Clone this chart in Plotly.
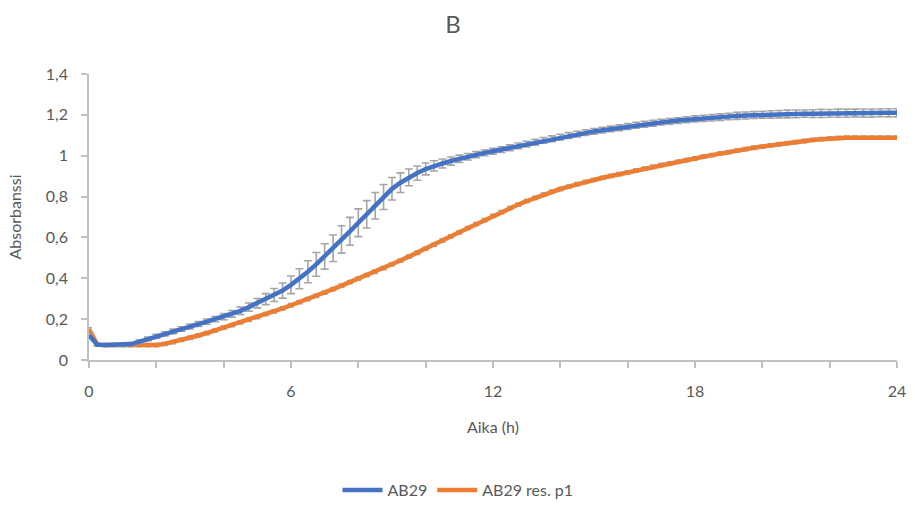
import plotly.graph_objects as go

# Time (h), sampled every 0.25 h
time_h = [i * 0.25 for i in range(97)]

ab29 = [0.120, 0.075, 0.073, 0.073, 0.074, 0.078, 0.090, 0.103, 0.116, 0.128,
        0.140, 0.152, 0.164, 0.176, 0.188, 0.200, 0.212, 0.226, 0.241, 0.259,
        0.278, 0.298, 0.318, 0.340, 0.368, 0.398, 0.432, 0.468, 0.507, 0.547,
        0.590, 0.630, 0.672, 0.713, 0.755, 0.798, 0.838, 0.868, 0.894, 0.915,
        0.935, 0.950, 0.962, 0.974, 0.985, 0.995, 1.005, 1.014, 1.022, 1.030,
        1.039, 1.048, 1.057, 1.066, 1.075, 1.083, 1.091, 1.099, 1.106, 1.113,
        1.119, 1.125, 1.131, 1.137, 1.143, 1.149, 1.154, 1.159, 1.164, 1.168,
        1.172, 1.176, 1.180, 1.183, 1.186, 1.189, 1.192, 1.195, 1.197, 1.199,
        1.201, 1.202, 1.203, 1.204, 1.205, 1.206, 1.206, 1.207, 1.207, 1.208,
        1.208, 1.209, 1.209, 1.209, 1.210, 1.210, 1.210]

ab29_sd = [0.006, 0.006, 0.006, 0.006, 0.006, 0.007, 0.008, 0.009, 0.010, 0.010,
           0.011, 0.011, 0.012, 0.012, 0.013, 0.013, 0.015, 0.016, 0.018, 0.020,
           0.023, 0.027, 0.032, 0.037, 0.043, 0.049, 0.054, 0.058, 0.062, 0.065,
           0.067, 0.068, 0.068, 0.067, 0.065, 0.061, 0.055, 0.048, 0.041, 0.035,
           0.029, 0.025, 0.022, 0.020, 0.018, 0.016, 0.015, 0.014, 0.014, 0.014,
           0.014, 0.014, 0.014, 0.014, 0.014, 0.014, 0.014, 0.014, 0.014, 0.014,
           0.014, 0.014, 0.014, 0.014, 0.014, 0.014, 0.014, 0.014, 0.014, 0.014,
           0.014, 0.015, 0.015, 0.015, 0.016, 0.016, 0.016, 0.017, 0.017, 0.017,
           0.017, 0.018, 0.018, 0.019, 0.019, 0.018, 0.019, 0.020, 0.019, 0.020,
           0.020, 0.019, 0.020, 0.020, 0.019, 0.020, 0.020]

ab29_res_p1 = [0.150, 0.075, 0.073, 0.073, 0.073, 0.073, 0.073, 0.073, 0.073, 0.079,
               0.088, 0.098, 0.108, 0.120, 0.132, 0.145, 0.158, 0.171, 0.184, 0.197,
               0.210, 0.224, 0.238, 0.253, 0.268, 0.283, 0.298, 0.314, 0.330, 0.347,
               0.364, 0.381, 0.398, 0.415, 0.432, 0.450, 0.468, 0.487, 0.506, 0.525,
               0.545, 0.565, 0.585, 0.605, 0.625, 0.645, 0.665, 0.685, 0.705, 0.724,
               0.743, 0.761, 0.778, 0.794, 0.810, 0.824, 0.837, 0.849, 0.861, 0.872,
               0.882, 0.892, 0.901, 0.910, 0.919, 0.928, 0.937, 0.946, 0.955, 0.963,
               0.971, 0.979, 0.987, 0.995, 1.003, 1.011, 1.018, 1.025, 1.032, 1.039,
               1.045, 1.051, 1.057, 1.062, 1.067, 1.072, 1.077, 1.081, 1.085, 1.087,
               1.088, 1.088, 1.088, 1.088, 1.088, 1.088, 1.088]

ab29_res_p1_sd = [0.008] * 97

x_tickvals = [0, 2, 4, 6, 8, 10, 12, 14, 16, 18, 20, 22, 24]
x_ticktext = ["0", "", "", "6", "", "", "12", "", "", "18", "", "", "24"]
y_tickvals = [0, 0.2, 0.4, 0.6, 0.8, 1.0, 1.2, 1.4]
y_ticktext = ["0", "0,2", "0,4", "0,6", "0,8", "1", "1,2", "1,4"]

FONT = "Lato, 'Open Sans', sans-serif"
TXT = "#595959"
AX = "#BFBFBF"
ERR = "#A5A5A5"

W, H = 915, 508
L, R, T = 89, 897, 74
B = 360

fig = go.Figure()
fig.add_trace(go.Scatter(
    x=time_h, y=ab29_res_p1, mode="lines", name="AB29 res. p1",
    line=dict(color="#ED7D31", width=4.5),
    error_y=dict(type="data", array=ab29_res_p1_sd, color=ERR, thickness=1.5, width=3),
))
fig.add_trace(go.Scatter(
    x=time_h, y=ab29, mode="lines", name="AB29",
    line=dict(color="#4472C4", width=4.5),
    error_y=dict(type="data", array=ab29_sd, color=ERR, thickness=1.6, width=4),
))

ph = H - T  # plotting height in paper coords (b=0)
pw = W - L  # plotting width (r=0)

fig.update_layout(
    width=W, height=H,
    margin=dict(l=L, r=0, t=T, b=0, autoexpand=False),
    paper_bgcolor="white", plot_bgcolor="white",
    font=dict(family=FONT, color=TXT, size=15),
    title=dict(text="B", x=453 / W, xref="container", xanchor="center",
               y=1 - 25 / H, yref="container", yanchor="middle",
               font=dict(size=24, color=TXT, family=FONT)),
    showlegend=True,
    legend=dict(orientation="h", x=(458 - L) / pw,
                xanchor="center", y=(H - 490) / ph, yanchor="middle",
                traceorder="reversed", font=dict(size=16, color=TXT),
                itemwidth=40, bgcolor="rgba(0,0,0,0)"),
    xaxis=dict(range=[0, 24], domain=[0, (R - L) / pw], automargin=False,
               tickvals=x_tickvals, ticktext=x_ticktext,
               showgrid=False, zeroline=False, showline=True, linecolor=AX, linewidth=1.5,
               ticks="outside", ticklen=6, tickcolor=AX, tickwidth=1.5,
               ticklabelstandoff=10,
               tickfont=dict(size=16, color=TXT),
               title=dict(text="Aika (h)", standoff=23, font=dict(size=16, color=TXT))),
    yaxis=dict(range=[0, 1.4], domain=[(H - B) / ph, 1], automargin=False,
               tickvals=y_tickvals, ticktext=y_ticktext,
               showgrid=False, zeroline=False, showline=True, linecolor=AX, linewidth=1.5,
               ticks="outside", ticklen=6, tickcolor=AX, tickwidth=1.5,
               ticklabelstandoff=10,
               tickfont=dict(size=16, color=TXT),
               title=dict(text="Absorbanssi", standoff=20, font=dict(size=16, color=TXT))),
)

fig.write_html("out.html")
